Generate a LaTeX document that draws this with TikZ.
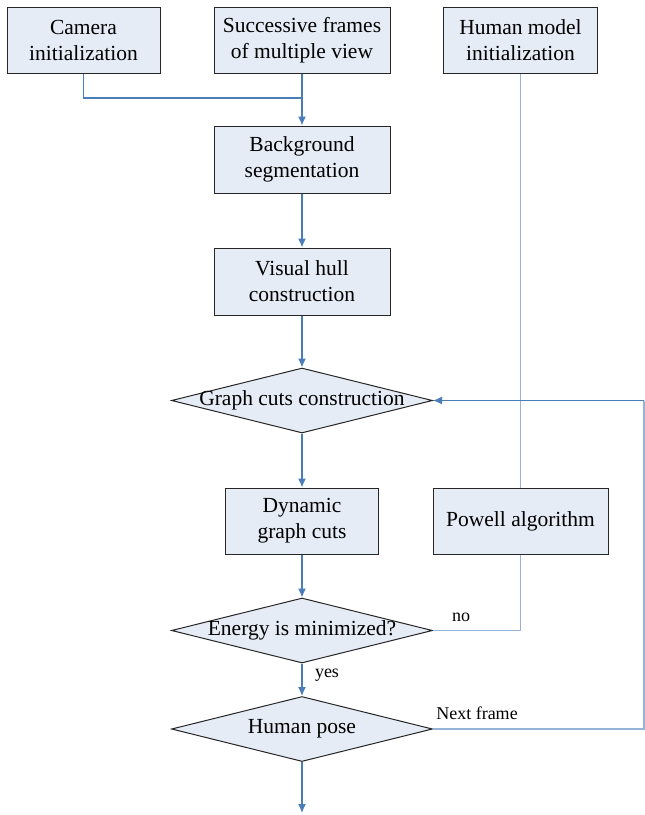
\documentclass[tikz,border=0pt]{standalone}
\usepackage{fontspec}
\setmainfont{Liberation Serif}
\usetikzlibrary{shapes.geometric}
\usetikzlibrary{arrows.meta}
\definecolor{boxfill}{RGB}{230,236,246}
\definecolor{flowblue}{RGB}{74,126,187}
\definecolor{loopblue}{RGB}{149,179,215}

\begin{document}
\begin{tikzpicture}[x=1pt, y=-1pt,
            box node/.style={rectangle, draw=black!85, fill=boxfill, line width=1pt, align=center, inner sep=0pt, font=\fontsize{21.5}{26}\selectfont},
            test node/.style={diamond, draw=black!85, fill=boxfill, line width=1pt, inner sep=0pt, minimum width=261pt, minimum height=65pt, font=\fontsize{21.5}{26}\selectfont},
            flow line/.style={draw=flowblue, line width=1.3pt},
            flow arrow/.style={flow line, -{Latex[length=9pt,width=8pt]}},
            back line/.style={draw=loopblue, line width=1.3pt},
            edge label/.style={font=\fontsize{18}{20}\selectfont},
            ]
            \useasboundingbox (0,0) rectangle (645,815);

            \node[box node, minimum width=153pt, minimum height=66pt] (cam) at (83.5,40.5) {Camera\\initialization};
            \node[box node, minimum width=176pt, minimum height=66pt] (frames) at (302,40.5) {Successive frames\\of multiple view};
            \node[box node, minimum width=154pt, minimum height=66pt] (model) at (520.5,40.5) {Human model\\initialization};
            \node[box node, minimum width=176pt, minimum height=67pt] (bg) at (302,159.5) {Background\\segmentation};
            \node[box node, minimum width=176pt, minimum height=67pt] (hull) at (302,281.5) {Visual hull\\construction};
            \node[test node] (gc) at (302,400.5) {\makebox[0pt]{Graph cuts construction}};
            \node[box node, minimum width=153pt, minimum height=66pt] (dyn) at (302,521) {Dynamic\\graph cuts};
            \node[box node, minimum width=175pt, minimum height=66pt] (powell) at (520.5,521) {Powell algorithm};
            \node[test node] (energy) at (302,630.5) {\makebox[0pt]{Energy is minimized?}};
            \node[test node] (pose) at (302,729) {\makebox[0pt]{Human pose}};

            \coordinate (join) at (302,98);
            \coordinate (out) at (302,813);
            \coordinate (r1) at (644,729);
            \coordinate (r2) at (644,400.5);

            \draw[flow line] (cam.south) |- (join);
            \draw[flow arrow] (frames.south) -- (bg.north);
            \draw[flow arrow] (bg.south) -- (hull.north);
            \draw[flow arrow] (hull.south) -- (gc.north);
            \draw[flow arrow] (gc.south) -- (dyn.north);
            \draw[flow arrow] (dyn.south) -- (energy.north);
            \draw[flow arrow] (energy.south) -- (pose.north);
            \draw[flow arrow] (pose.south) -- (out);
            \draw[back line] (model.south) -- (powell.north);
            \draw[back line] (powell.south) |- (energy.east);
            \draw[back line] (pose.east) -- (r1) -- (r2);
            \draw[flow arrow] (r2) -- (gc.east);

            \node[edge label] (yes) at (327,675) {yes};
            \node[edge label] (no) at (461,617) {no};
            \node[edge label] (next) at (477,713) {Next frame};
        \end{tikzpicture}
\end{document}
